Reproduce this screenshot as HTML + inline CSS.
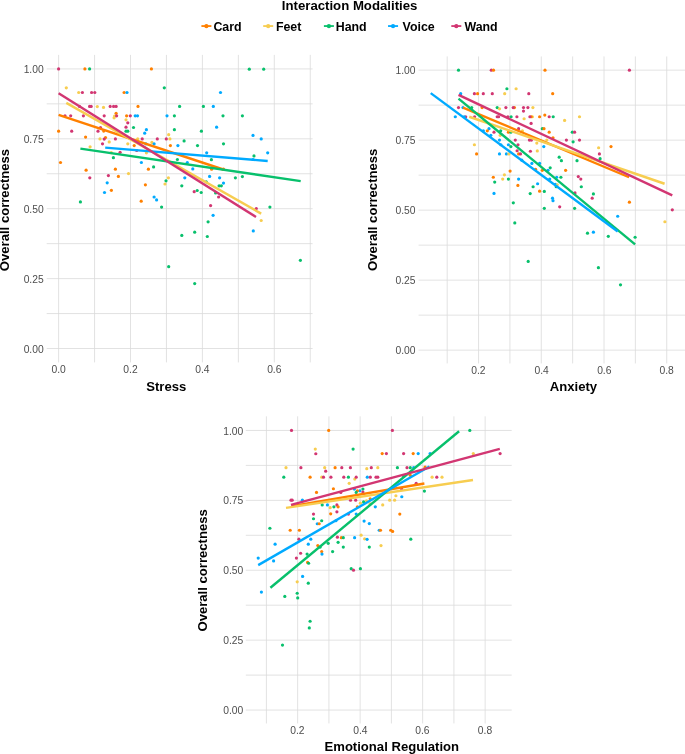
<!DOCTYPE html>
<html><head><meta charset="utf-8"><title>Interaction Modalities</title>
<style>
html,body{margin:0;padding:0;background:#fff;}
body{width:685px;height:754px;overflow:hidden;}
svg{display:block;font-family:"Liberation Sans",sans-serif;will-change:transform;}
</style></head><body>
<svg width="685" height="754" viewBox="0 0 685 754">

<text x="349.6" y="9.7" text-anchor="middle" font-size="13.2" font-weight="bold" fill="#000">Interaction Modalities</text>
<line x1="201.4" y1="26.05" x2="211.4" y2="26.05" stroke="#FF8000" stroke-width="1.8"/>
<circle cx="206.4" cy="26.15" r="2.1" fill="#FF8000"/>
<text x="213.4" y="30.8" font-size="12.4" font-weight="bold" fill="#000">Card</text>
<line x1="263.2" y1="26.05" x2="273.2" y2="26.05" stroke="#F7CD50" stroke-width="1.8"/>
<circle cx="268.2" cy="26.15" r="2.1" fill="#F7CD50"/>
<text x="275.9" y="30.8" font-size="12.4" font-weight="bold" fill="#000">Feet</text>
<line x1="323.9" y1="26.05" x2="333.9" y2="26.05" stroke="#08C06C" stroke-width="1.8"/>
<circle cx="328.9" cy="26.15" r="2.1" fill="#08C06C"/>
<text x="335.7" y="30.8" font-size="12.4" font-weight="bold" fill="#000">Hand</text>
<line x1="388.05" y1="26.05" x2="398.05" y2="26.05" stroke="#00AAFF" stroke-width="1.8"/>
<circle cx="393.05" cy="26.15" r="2.1" fill="#00AAFF"/>
<text x="402.6" y="30.8" font-size="12.4" font-weight="bold" fill="#000">Voice</text>
<line x1="451.3" y1="26.05" x2="461.3" y2="26.05" stroke="#D23672" stroke-width="1.8"/>
<circle cx="456.3" cy="26.15" r="2.1" fill="#D23672"/>
<text x="464.4" y="30.8" font-size="12.4" font-weight="bold" fill="#000">Wand</text>
<g transform="translate(0,0.3)">
<line x1="58.6" y1="54.6" x2="58.6" y2="362.1" stroke="#dadada" stroke-width="0.8"/>
<line x1="94.55000000000001" y1="54.6" x2="94.55000000000001" y2="362.1" stroke="#dadada" stroke-width="0.8"/>
<line x1="130.5" y1="54.6" x2="130.5" y2="362.1" stroke="#dadada" stroke-width="0.8"/>
<line x1="166.45000000000002" y1="54.6" x2="166.45000000000002" y2="362.1" stroke="#dadada" stroke-width="0.8"/>
<line x1="202.4" y1="54.6" x2="202.4" y2="362.1" stroke="#dadada" stroke-width="0.8"/>
<line x1="238.35" y1="54.6" x2="238.35" y2="362.1" stroke="#dadada" stroke-width="0.8"/>
<line x1="274.3" y1="54.6" x2="274.3" y2="362.1" stroke="#dadada" stroke-width="0.8"/>
<line x1="310.25000000000006" y1="54.6" x2="310.25000000000006" y2="362.1" stroke="#dadada" stroke-width="0.8"/>
<line x1="46.7" y1="68.6" x2="312.6" y2="68.6" stroke="#dadada" stroke-width="0.8"/>
<line x1="46.7" y1="103.55" x2="312.6" y2="103.55" stroke="#dadada" stroke-width="0.8"/>
<line x1="46.7" y1="138.5" x2="312.6" y2="138.5" stroke="#dadada" stroke-width="0.8"/>
<line x1="46.7" y1="173.45" x2="312.6" y2="173.45" stroke="#dadada" stroke-width="0.8"/>
<line x1="46.7" y1="208.4" x2="312.6" y2="208.4" stroke="#dadada" stroke-width="0.8"/>
<line x1="46.7" y1="243.35" x2="312.6" y2="243.35" stroke="#dadada" stroke-width="0.8"/>
<line x1="46.7" y1="278.3" x2="312.6" y2="278.3" stroke="#dadada" stroke-width="0.8"/>
<line x1="46.7" y1="313.25" x2="312.6" y2="313.25" stroke="#dadada" stroke-width="0.8"/>
<line x1="46.7" y1="348.20000000000005" x2="312.6" y2="348.20000000000005" stroke="#dadada" stroke-width="0.8"/>
<circle cx="58.6" cy="68.6" r="1.6" fill="#D23672"/>
<circle cx="84.9" cy="68.6" r="1.6" fill="#FF8000"/>
<circle cx="89.6" cy="68.6" r="1.6" fill="#08C06C"/>
<circle cx="151.4" cy="68.6" r="1.6" fill="#FF8000"/>
<circle cx="66.3" cy="87.5" r="1.6" fill="#F7CD50"/>
<circle cx="164.3" cy="87.5" r="1.6" fill="#08C06C"/>
<circle cx="78.7" cy="92.2" r="1.6" fill="#F7CD50"/>
<circle cx="82.4" cy="92.2" r="1.6" fill="#D23672"/>
<circle cx="91.6" cy="92.2" r="1.6" fill="#D23672"/>
<circle cx="94.8" cy="92.2" r="1.6" fill="#D23672"/>
<circle cx="124.1" cy="92.2" r="1.6" fill="#FF8000"/>
<circle cx="127" cy="92.2" r="1.6" fill="#00AAFF"/>
<circle cx="79.5" cy="106.1" r="1.6" fill="#D23672"/>
<circle cx="89.6" cy="106.1" r="1.6" fill="#D23672"/>
<circle cx="103.7" cy="130.8" r="1.6" fill="#FF8000"/>
<circle cx="91.2" cy="106.1" r="1.6" fill="#D23672"/>
<circle cx="97.3" cy="106.3" r="1.6" fill="#F7CD50"/>
<circle cx="103.5" cy="107.1" r="1.6" fill="#F7CD50"/>
<circle cx="110.2" cy="106.1" r="1.6" fill="#D23672"/>
<circle cx="113.6" cy="106.1" r="1.6" fill="#D23672"/>
<circle cx="116.1" cy="106.1" r="1.6" fill="#D23672"/>
<circle cx="138" cy="106.1" r="1.6" fill="#FF8000"/>
<circle cx="65" cy="115.5" r="1.6" fill="#D23672"/>
<circle cx="70.7" cy="115.5" r="1.6" fill="#D23672"/>
<circle cx="83.4" cy="115.5" r="1.6" fill="#D23672"/>
<circle cx="104.2" cy="115.5" r="1.6" fill="#D23672"/>
<circle cx="116.1" cy="113" r="1.6" fill="#FF8000"/>
<circle cx="114.6" cy="115.8" r="1.6" fill="#F7CD50"/>
<circle cx="114.1" cy="117.5" r="1.6" fill="#F7CD50"/>
<circle cx="116.6" cy="115.5" r="1.6" fill="#D23672"/>
<circle cx="126.6" cy="115.5" r="1.6" fill="#FF8000"/>
<circle cx="130.3" cy="115.5" r="1.6" fill="#D23672"/>
<circle cx="135.2" cy="115.5" r="1.6" fill="#00AAFF"/>
<circle cx="137.5" cy="115.5" r="1.6" fill="#00AAFF"/>
<circle cx="167" cy="115.5" r="1.6" fill="#00AAFF"/>
<circle cx="126" cy="119.5" r="1.6" fill="#F7CD50"/>
<circle cx="127.8" cy="122.5" r="1.6" fill="#D23672"/>
<circle cx="126" cy="126.9" r="1.6" fill="#D23672"/>
<circle cx="133.5" cy="127.2" r="1.6" fill="#08C06C"/>
<circle cx="146.4" cy="129.4" r="1.6" fill="#00AAFF"/>
<circle cx="58.6" cy="130.9" r="1.6" fill="#FF8000"/>
<circle cx="71.7" cy="130.9" r="1.6" fill="#D23672"/>
<circle cx="98" cy="130.9" r="1.6" fill="#D23672"/>
<circle cx="100.5" cy="127.2" r="1.6" fill="#D23672"/>
<circle cx="126" cy="130.9" r="1.6" fill="#08C06C"/>
<circle cx="127.8" cy="130.9" r="1.6" fill="#08C06C"/>
<circle cx="144.7" cy="132.9" r="1.6" fill="#00AAFF"/>
<circle cx="85.6" cy="136.8" r="1.6" fill="#FF8000"/>
<circle cx="100" cy="138.6" r="1.6" fill="#F7CD50"/>
<circle cx="105.5" cy="137.3" r="1.6" fill="#FF8000"/>
<circle cx="104.2" cy="138.8" r="1.6" fill="#D23672"/>
<circle cx="115.4" cy="138.6" r="1.6" fill="#D23672"/>
<circle cx="137.7" cy="138.6" r="1.6" fill="#F7CD50"/>
<circle cx="142.2" cy="138.6" r="1.6" fill="#D23672"/>
<circle cx="157.3" cy="138.6" r="1.6" fill="#D23672"/>
<circle cx="166.3" cy="138.6" r="1.6" fill="#D23672"/>
<circle cx="168.7" cy="134.4" r="1.6" fill="#F7CD50"/>
<circle cx="169.9" cy="138.6" r="1.6" fill="#F7CD50"/>
<circle cx="109.2" cy="141.6" r="1.6" fill="#F7CD50"/>
<circle cx="102.5" cy="143.5" r="1.6" fill="#D23672"/>
<circle cx="127.8" cy="143.5" r="1.6" fill="#F7CD50"/>
<circle cx="134.2" cy="145.3" r="1.6" fill="#FF8000"/>
<circle cx="151.9" cy="142.1" r="1.6" fill="#F7CD50"/>
<circle cx="154.1" cy="143.5" r="1.6" fill="#00AAFF"/>
<circle cx="170.4" cy="145.3" r="1.6" fill="#FF8000"/>
<circle cx="90.1" cy="146.5" r="1.6" fill="#F7CD50"/>
<circle cx="145.9" cy="143.5" r="1.6" fill="#00AAFF"/>
<circle cx="136.7" cy="150.2" r="1.6" fill="#D23672"/>
<circle cx="146.4" cy="152.5" r="1.6" fill="#F7CD50"/>
<circle cx="120.1" cy="152" r="1.6" fill="#D23672"/>
<circle cx="111.3" cy="152.4" r="1.6" fill="#F7CD50"/>
<circle cx="113.4" cy="157.4" r="1.6" fill="#08C06C"/>
<circle cx="60.5" cy="162.2" r="1.6" fill="#FF8000"/>
<circle cx="141.4" cy="162.2" r="1.6" fill="#00AAFF"/>
<circle cx="153.6" cy="166.6" r="1.6" fill="#08C06C"/>
<circle cx="86.1" cy="169.9" r="1.6" fill="#FF8000"/>
<circle cx="115.4" cy="168.9" r="1.6" fill="#FF8000"/>
<circle cx="148.4" cy="168.9" r="1.6" fill="#FF8000"/>
<circle cx="128.5" cy="173.3" r="1.6" fill="#F7CD50"/>
<circle cx="108.4" cy="175.3" r="1.6" fill="#D23672"/>
<circle cx="118.4" cy="176.1" r="1.6" fill="#FF8000"/>
<circle cx="89.8" cy="177.5" r="1.6" fill="#D23672"/>
<circle cx="107.2" cy="182.5" r="1.6" fill="#00AAFF"/>
<circle cx="168.4" cy="177.5" r="1.6" fill="#F7CD50"/>
<circle cx="166" cy="180.5" r="1.6" fill="#08C06C"/>
<circle cx="165" cy="183.7" r="1.6" fill="#F7CD50"/>
<circle cx="145.4" cy="184.5" r="1.6" fill="#FF8000"/>
<circle cx="111.4" cy="190" r="1.6" fill="#FF8000"/>
<circle cx="104.5" cy="192.2" r="1.6" fill="#00AAFF"/>
<circle cx="154.1" cy="196.7" r="1.6" fill="#00AAFF"/>
<circle cx="156.6" cy="199.6" r="1.6" fill="#00AAFF"/>
<circle cx="141.2" cy="200.9" r="1.6" fill="#FF8000"/>
<circle cx="80.4" cy="201.6" r="1.6" fill="#08C06C"/>
<circle cx="161.6" cy="206.8" r="1.6" fill="#08C06C"/>
<circle cx="249.3" cy="68.9" r="1.6" fill="#08C06C"/>
<circle cx="263.7" cy="68.9" r="1.6" fill="#08C06C"/>
<circle cx="220.5" cy="92.2" r="1.6" fill="#00AAFF"/>
<circle cx="179.6" cy="106.1" r="1.6" fill="#08C06C"/>
<circle cx="203.4" cy="106.1" r="1.6" fill="#08C06C"/>
<circle cx="213.3" cy="106.1" r="1.6" fill="#00AAFF"/>
<circle cx="174.4" cy="115.5" r="1.6" fill="#08C06C"/>
<circle cx="223" cy="115.5" r="1.6" fill="#08C06C"/>
<circle cx="242.4" cy="115.5" r="1.6" fill="#08C06C"/>
<circle cx="216.6" cy="126.9" r="1.6" fill="#00AAFF"/>
<circle cx="174.4" cy="129.4" r="1.6" fill="#08C06C"/>
<circle cx="201.4" cy="130.9" r="1.6" fill="#08C06C"/>
<circle cx="253" cy="135.1" r="1.6" fill="#00AAFF"/>
<circle cx="261.2" cy="138.6" r="1.6" fill="#00AAFF"/>
<circle cx="184.1" cy="140.6" r="1.6" fill="#08C06C"/>
<circle cx="223.5" cy="143.5" r="1.6" fill="#08C06C"/>
<circle cx="177.9" cy="145.3" r="1.6" fill="#00AAFF"/>
<circle cx="197.5" cy="145.3" r="1.6" fill="#08C06C"/>
<circle cx="206.7" cy="152.5" r="1.6" fill="#00AAFF"/>
<circle cx="267.7" cy="152.5" r="1.6" fill="#00AAFF"/>
<circle cx="254" cy="155.6" r="1.6" fill="#08C06C"/>
<circle cx="253" cy="159.2" r="1.6" fill="#00AAFF"/>
<circle cx="177.4" cy="159.2" r="1.6" fill="#08C06C"/>
<circle cx="211.4" cy="159.4" r="1.6" fill="#08C06C"/>
<circle cx="187.3" cy="162.2" r="1.6" fill="#00AAFF"/>
<circle cx="192.8" cy="168.6" r="1.6" fill="#00AAFF"/>
<circle cx="211.6" cy="168.9" r="1.6" fill="#FF8000"/>
<circle cx="223.5" cy="168.9" r="1.6" fill="#FF8000"/>
<circle cx="209.6" cy="176.1" r="1.6" fill="#00AAFF"/>
<circle cx="184.8" cy="177.5" r="1.6" fill="#00AAFF"/>
<circle cx="219.6" cy="177.5" r="1.6" fill="#00AAFF"/>
<circle cx="235.4" cy="177.5" r="1.6" fill="#08C06C"/>
<circle cx="242.4" cy="176.3" r="1.6" fill="#08C06C"/>
<circle cx="206.2" cy="181.5" r="1.6" fill="#08C06C"/>
<circle cx="223.5" cy="182.8" r="1.6" fill="#00AAFF"/>
<circle cx="181.8" cy="185.5" r="1.6" fill="#08C06C"/>
<circle cx="219.1" cy="185.5" r="1.6" fill="#08C06C"/>
<circle cx="221.3" cy="185.5" r="1.6" fill="#08C06C"/>
<circle cx="197.2" cy="190.2" r="1.6" fill="#08C06C"/>
<circle cx="194.2" cy="191.4" r="1.6" fill="#D23672"/>
<circle cx="201.2" cy="192.2" r="1.6" fill="#08C06C"/>
<circle cx="215.6" cy="192.7" r="1.6" fill="#08C06C"/>
<circle cx="218.6" cy="196.7" r="1.6" fill="#D23672"/>
<circle cx="210.6" cy="205.3" r="1.6" fill="#D23672"/>
<circle cx="269.9" cy="206.8" r="1.6" fill="#08C06C"/>
<circle cx="256.3" cy="208.3" r="1.6" fill="#D23672"/>
<circle cx="213.1" cy="215" r="1.6" fill="#00AAFF"/>
<circle cx="261.2" cy="220.2" r="1.6" fill="#F7CD50"/>
<circle cx="208.1" cy="221.5" r="1.6" fill="#08C06C"/>
<circle cx="253.3" cy="230.6" r="1.6" fill="#00AAFF"/>
<circle cx="194.7" cy="231.9" r="1.6" fill="#08C06C"/>
<circle cx="181.8" cy="235.1" r="1.6" fill="#08C06C"/>
<circle cx="207.3" cy="236.2" r="1.6" fill="#08C06C"/>
<circle cx="168.7" cy="266.4" r="1.6" fill="#08C06C"/>
<circle cx="194.7" cy="283.3" r="1.6" fill="#08C06C"/>
<circle cx="300.4" cy="260" r="1.6" fill="#08C06C"/>
<line x1="58.6" y1="114.5" x2="223.3" y2="169.2" stroke="#FF8000" stroke-width="2.4"/>
<line x1="66.3" y1="102.6" x2="261.2" y2="213.3" stroke="#F7CD50" stroke-width="2.4"/>
<line x1="80.4" y1="148.3" x2="300.7" y2="180.8" stroke="#08C06C" stroke-width="2.4"/>
<line x1="105.2" y1="147.3" x2="267.7" y2="160.7" stroke="#00AAFF" stroke-width="2.4"/>
<line x1="58.6" y1="92.9" x2="256" y2="216.7" stroke="#D23672" stroke-width="2.4"/>
</g>
<text x="58.6" y="372.8" text-anchor="middle" font-size="10.3" fill="#4d4d4d">0.0</text>
<text x="130.5" y="372.8" text-anchor="middle" font-size="10.3" fill="#4d4d4d">0.2</text>
<text x="202.4" y="372.8" text-anchor="middle" font-size="10.3" fill="#4d4d4d">0.4</text>
<text x="274.3" y="372.8" text-anchor="middle" font-size="10.3" fill="#4d4d4d">0.6</text>
<text x="43.7" y="72.99999999999999" text-anchor="end" font-size="10.3" fill="#4d4d4d">1.00</text>
<text x="43.7" y="142.9" text-anchor="end" font-size="10.3" fill="#4d4d4d">0.75</text>
<text x="43.7" y="212.8" text-anchor="end" font-size="10.3" fill="#4d4d4d">0.50</text>
<text x="43.7" y="282.70000000000005" text-anchor="end" font-size="10.3" fill="#4d4d4d">0.25</text>
<text x="43.7" y="352.6" text-anchor="end" font-size="10.3" fill="#4d4d4d">0.00</text>
<text x="166.3" y="391.3" text-anchor="middle" font-size="13.1" font-weight="bold" fill="#000">Stress</text>
<text transform="translate(9.4,210) rotate(-90)" text-anchor="middle" font-size="13.1" font-weight="bold" fill="#000">Overall correctness</text>
<g transform="translate(0,0.25)">
<line x1="447.2" y1="56.2" x2="447.2" y2="363.2" stroke="#dadada" stroke-width="0.8"/>
<line x1="478.56" y1="56.2" x2="478.56" y2="363.2" stroke="#dadada" stroke-width="0.8"/>
<line x1="509.91999999999996" y1="56.2" x2="509.91999999999996" y2="363.2" stroke="#dadada" stroke-width="0.8"/>
<line x1="541.28" y1="56.2" x2="541.28" y2="363.2" stroke="#dadada" stroke-width="0.8"/>
<line x1="572.64" y1="56.2" x2="572.64" y2="363.2" stroke="#dadada" stroke-width="0.8"/>
<line x1="604.0" y1="56.2" x2="604.0" y2="363.2" stroke="#dadada" stroke-width="0.8"/>
<line x1="635.36" y1="56.2" x2="635.36" y2="363.2" stroke="#dadada" stroke-width="0.8"/>
<line x1="666.72" y1="56.2" x2="666.72" y2="363.2" stroke="#dadada" stroke-width="0.8"/>
<line x1="418.6" y1="69.9" x2="685" y2="69.9" stroke="#dadada" stroke-width="0.8"/>
<line x1="418.6" y1="104.9" x2="685" y2="104.9" stroke="#dadada" stroke-width="0.8"/>
<line x1="418.6" y1="139.9" x2="685" y2="139.9" stroke="#dadada" stroke-width="0.8"/>
<line x1="418.6" y1="174.9" x2="685" y2="174.9" stroke="#dadada" stroke-width="0.8"/>
<line x1="418.6" y1="209.9" x2="685" y2="209.9" stroke="#dadada" stroke-width="0.8"/>
<line x1="418.6" y1="244.9" x2="685" y2="244.9" stroke="#dadada" stroke-width="0.8"/>
<line x1="418.6" y1="279.9" x2="685" y2="279.9" stroke="#dadada" stroke-width="0.8"/>
<line x1="418.6" y1="314.9" x2="685" y2="314.9" stroke="#dadada" stroke-width="0.8"/>
<line x1="418.6" y1="349.9" x2="685" y2="349.9" stroke="#dadada" stroke-width="0.8"/>
<circle cx="458.5" cy="69.9" r="1.6" fill="#08C06C"/>
<circle cx="491.3" cy="69.9" r="1.6" fill="#D23672"/>
<circle cx="493.5" cy="69.9" r="1.6" fill="#FF8000"/>
<circle cx="506.9" cy="88.5" r="1.6" fill="#08C06C"/>
<circle cx="516.1" cy="88.5" r="1.6" fill="#F7CD50"/>
<circle cx="460.7" cy="93.4" r="1.6" fill="#00AAFF"/>
<circle cx="474.4" cy="93.4" r="1.6" fill="#D23672"/>
<circle cx="477.6" cy="93.4" r="1.6" fill="#FF8000"/>
<circle cx="483.3" cy="93.4" r="1.6" fill="#D23672"/>
<circle cx="492.3" cy="93.4" r="1.6" fill="#D23672"/>
<circle cx="504.7" cy="93.4" r="1.6" fill="#F7CD50"/>
<circle cx="528.8" cy="93.4" r="1.6" fill="#D23672"/>
<circle cx="458.5" cy="107.3" r="1.6" fill="#D23672"/>
<circle cx="463" cy="107.3" r="1.6" fill="#00AAFF"/>
<circle cx="471.7" cy="107.3" r="1.6" fill="#08C06C"/>
<circle cx="482.1" cy="107.3" r="1.6" fill="#FF8000"/>
<circle cx="497.2" cy="107.3" r="1.6" fill="#08C06C"/>
<circle cx="499.5" cy="108.6" r="1.6" fill="#F7CD50"/>
<circle cx="505.9" cy="107.3" r="1.6" fill="#D23672"/>
<circle cx="514.4" cy="107.3" r="1.6" fill="#FF8000"/>
<circle cx="513.2" cy="107.3" r="1.6" fill="#D23672"/>
<circle cx="523.5" cy="107.3" r="1.6" fill="#D23672"/>
<circle cx="527.9" cy="107.3" r="1.6" fill="#D23672"/>
<circle cx="532.9" cy="107.3" r="1.6" fill="#F7CD50"/>
<circle cx="523.5" cy="110.8" r="1.6" fill="#D23672"/>
<circle cx="455.3" cy="116.5" r="1.6" fill="#00AAFF"/>
<circle cx="465.7" cy="116.5" r="1.6" fill="#D23672"/>
<circle cx="464.2" cy="116.5" r="1.6" fill="#00AAFF"/>
<circle cx="474.6" cy="116.5" r="1.6" fill="#D23672"/>
<circle cx="497.2" cy="116.5" r="1.6" fill="#D23672"/>
<circle cx="498.6" cy="116.5" r="1.6" fill="#D23672"/>
<circle cx="507.9" cy="116.5" r="1.6" fill="#D23672"/>
<circle cx="511.1" cy="116.5" r="1.6" fill="#08C06C"/>
<circle cx="516.9" cy="116.5" r="1.6" fill="#D23672"/>
<circle cx="524.1" cy="118.5" r="1.6" fill="#F7CD50"/>
<circle cx="518.6" cy="128.4" r="1.6" fill="#D23672"/>
<circle cx="489" cy="128.4" r="1.6" fill="#00AAFF"/>
<circle cx="483.3" cy="130.6" r="1.6" fill="#00AAFF"/>
<circle cx="487.3" cy="130.6" r="1.6" fill="#FF8000"/>
<circle cx="494" cy="131.9" r="1.6" fill="#D23672"/>
<circle cx="500.7" cy="130.6" r="1.6" fill="#08C06C"/>
<circle cx="508.4" cy="131.9" r="1.6" fill="#FF8000"/>
<circle cx="510.9" cy="131.9" r="1.6" fill="#08C06C"/>
<circle cx="490.8" cy="135.1" r="1.6" fill="#00AAFF"/>
<circle cx="500.2" cy="135.1" r="1.6" fill="#F7CD50"/>
<circle cx="499.5" cy="139.8" r="1.6" fill="#00AAFF"/>
<circle cx="515.3" cy="139.8" r="1.6" fill="#D23672"/>
<circle cx="474.4" cy="144.5" r="1.6" fill="#F7CD50"/>
<circle cx="500.9" cy="144.5" r="1.6" fill="#00AAFF"/>
<circle cx="508.4" cy="144.5" r="1.6" fill="#00AAFF"/>
<circle cx="510.9" cy="146.3" r="1.6" fill="#08C06C"/>
<circle cx="476.6" cy="153.7" r="1.6" fill="#FF8000"/>
<circle cx="499.5" cy="153.7" r="1.6" fill="#00AAFF"/>
<circle cx="506.4" cy="153.7" r="1.6" fill="#00AAFF"/>
<circle cx="508.9" cy="153.7" r="1.6" fill="#F7CD50"/>
<circle cx="518.6" cy="153.7" r="1.6" fill="#FF8000"/>
<circle cx="517.1" cy="150.5" r="1.6" fill="#D23672"/>
<circle cx="521.8" cy="159.9" r="1.6" fill="#00AAFF"/>
<circle cx="510.1" cy="170.8" r="1.6" fill="#FF8000"/>
<circle cx="504.4" cy="174.6" r="1.6" fill="#F7CD50"/>
<circle cx="493.3" cy="177" r="1.6" fill="#FF8000"/>
<circle cx="502.7" cy="178.8" r="1.6" fill="#F7CD50"/>
<circle cx="508.4" cy="178.8" r="1.6" fill="#08C06C"/>
<circle cx="518.6" cy="178.8" r="1.6" fill="#00AAFF"/>
<circle cx="494.7" cy="181.8" r="1.6" fill="#08C06C"/>
<circle cx="517.9" cy="185.2" r="1.6" fill="#FF8000"/>
<circle cx="494" cy="193.2" r="1.6" fill="#00AAFF"/>
<circle cx="530.2" cy="193.3" r="1.6" fill="#08C06C"/>
<circle cx="513.3" cy="202.6" r="1.6" fill="#08C06C"/>
<circle cx="514.8" cy="222.7" r="1.6" fill="#08C06C"/>
<circle cx="545" cy="69.9" r="1.6" fill="#FF8000"/>
<circle cx="629.4" cy="69.9" r="1.6" fill="#D23672"/>
<circle cx="552.7" cy="93.4" r="1.6" fill="#FF8000"/>
<circle cx="532.4" cy="116.5" r="1.6" fill="#F7CD50"/>
<circle cx="531.2" cy="116.5" r="1.6" fill="#FF8000"/>
<circle cx="529.9" cy="116.5" r="1.6" fill="#D23672"/>
<circle cx="539.6" cy="116.5" r="1.6" fill="#FF8000"/>
<circle cx="544.8" cy="114.8" r="1.6" fill="#FF8000"/>
<circle cx="549.2" cy="116.5" r="1.6" fill="#D23672"/>
<circle cx="553.2" cy="116.5" r="1.6" fill="#08C06C"/>
<circle cx="579.5" cy="116.5" r="1.6" fill="#F7CD50"/>
<circle cx="564.6" cy="120.2" r="1.6" fill="#F7CD50"/>
<circle cx="531.1" cy="123.2" r="1.6" fill="#D23672"/>
<circle cx="542.3" cy="128.4" r="1.6" fill="#08C06C"/>
<circle cx="544" cy="128.4" r="1.6" fill="#FF8000"/>
<circle cx="522.4" cy="130.6" r="1.6" fill="#F7CD50"/>
<circle cx="549.2" cy="131.9" r="1.6" fill="#FF8000"/>
<circle cx="572.3" cy="131.9" r="1.6" fill="#08C06C"/>
<circle cx="574.6" cy="131.9" r="1.6" fill="#D23672"/>
<circle cx="553" cy="137.6" r="1.6" fill="#FF8000"/>
<circle cx="529.4" cy="139.8" r="1.6" fill="#D23672"/>
<circle cx="531.4" cy="139.8" r="1.6" fill="#D23672"/>
<circle cx="546.8" cy="139.8" r="1.6" fill="#F7CD50"/>
<circle cx="566.4" cy="139.8" r="1.6" fill="#D23672"/>
<circle cx="579.5" cy="139.8" r="1.6" fill="#D23672"/>
<circle cx="573.1" cy="141.6" r="1.6" fill="#08C06C"/>
<circle cx="536.8" cy="142.8" r="1.6" fill="#F7CD50"/>
<circle cx="518" cy="144.5" r="1.6" fill="#D23672"/>
<circle cx="543.8" cy="146.3" r="1.6" fill="#00AAFF"/>
<circle cx="611" cy="146.3" r="1.6" fill="#FF8000"/>
<circle cx="598.6" cy="147.5" r="1.6" fill="#F7CD50"/>
<circle cx="530.4" cy="151" r="1.6" fill="#D23672"/>
<circle cx="537.3" cy="150.7" r="1.6" fill="#F7CD50"/>
<circle cx="520.5" cy="153.7" r="1.6" fill="#D23672"/>
<circle cx="599.4" cy="153.7" r="1.6" fill="#D23672"/>
<circle cx="559.2" cy="156.9" r="1.6" fill="#08C06C"/>
<circle cx="600.1" cy="158.4" r="1.6" fill="#08C06C"/>
<circle cx="561.4" cy="160.4" r="1.6" fill="#08C06C"/>
<circle cx="577" cy="160.4" r="1.6" fill="#08C06C"/>
<circle cx="531.9" cy="163.2" r="1.6" fill="#00AAFF"/>
<circle cx="539.6" cy="163.2" r="1.6" fill="#00AAFF"/>
<circle cx="550.2" cy="167.6" r="1.6" fill="#08C06C"/>
<circle cx="535.6" cy="169" r="1.6" fill="#FF8000"/>
<circle cx="542.3" cy="170.1" r="1.6" fill="#FF8000"/>
<circle cx="548" cy="170.1" r="1.6" fill="#00AAFF"/>
<circle cx="565.6" cy="170.1" r="1.6" fill="#FF8000"/>
<circle cx="578.3" cy="176.3" r="1.6" fill="#D23672"/>
<circle cx="580.8" cy="178.8" r="1.6" fill="#D23672"/>
<circle cx="556.7" cy="177" r="1.6" fill="#00AAFF"/>
<circle cx="560.9" cy="177" r="1.6" fill="#08C06C"/>
<circle cx="549.7" cy="178.8" r="1.6" fill="#00AAFF"/>
<circle cx="537.6" cy="183.5" r="1.6" fill="#00AAFF"/>
<circle cx="555.4" cy="184" r="1.6" fill="#00AAFF"/>
<circle cx="557.2" cy="184.5" r="1.6" fill="#F7CD50"/>
<circle cx="556.2" cy="186.5" r="1.6" fill="#08C06C"/>
<circle cx="533.1" cy="186.5" r="1.6" fill="#08C06C"/>
<circle cx="581.3" cy="186.5" r="1.6" fill="#08C06C"/>
<circle cx="539.6" cy="190.9" r="1.6" fill="#FF8000"/>
<circle cx="544.3" cy="191.2" r="1.6" fill="#08C06C"/>
<circle cx="575" cy="192.7" r="1.6" fill="#D23672"/>
<circle cx="593.4" cy="193.7" r="1.6" fill="#08C06C"/>
<circle cx="592.2" cy="197.9" r="1.6" fill="#D23672"/>
<circle cx="552.5" cy="197.9" r="1.6" fill="#00AAFF"/>
<circle cx="553" cy="200.4" r="1.6" fill="#00AAFF"/>
<circle cx="629.4" cy="201.9" r="1.6" fill="#FF8000"/>
<circle cx="559.7" cy="206.6" r="1.6" fill="#D23672"/>
<circle cx="544.3" cy="208.1" r="1.6" fill="#08C06C"/>
<circle cx="574.6" cy="208.1" r="1.6" fill="#08C06C"/>
<circle cx="672.3" cy="209.6" r="1.6" fill="#D23672"/>
<circle cx="617.7" cy="216" r="1.6" fill="#00AAFF"/>
<circle cx="664.9" cy="221.5" r="1.6" fill="#F7CD50"/>
<circle cx="587.5" cy="232.9" r="1.6" fill="#08C06C"/>
<circle cx="593.4" cy="231.9" r="1.6" fill="#00AAFF"/>
<circle cx="608.3" cy="236.1" r="1.6" fill="#08C06C"/>
<circle cx="635.1" cy="237" r="1.6" fill="#08C06C"/>
<circle cx="528.2" cy="261.2" r="1.6" fill="#08C06C"/>
<circle cx="598.4" cy="267.4" r="1.6" fill="#08C06C"/>
<circle cx="620.5" cy="284.6" r="1.6" fill="#08C06C"/>
<line x1="463" y1="107.3" x2="629.1" y2="177" stroke="#FF8000" stroke-width="2.4"/>
<line x1="469.2" y1="116.5" x2="664.6" y2="183.5" stroke="#F7CD50" stroke-width="2.4"/>
<line x1="458.5" y1="98.4" x2="635.1" y2="244.1" stroke="#08C06C" stroke-width="2.4"/>
<line x1="430.7" y1="92.9" x2="617.7" y2="231.2" stroke="#00AAFF" stroke-width="2.4"/>
<line x1="458.5" y1="94.7" x2="672.3" y2="195.2" stroke="#D23672" stroke-width="2.4"/>
</g>
<text x="478.4" y="373.7" text-anchor="middle" font-size="10.3" fill="#4d4d4d">0.2</text>
<text x="541.6" y="373.7" text-anchor="middle" font-size="10.3" fill="#4d4d4d">0.4</text>
<text x="604.3" y="373.7" text-anchor="middle" font-size="10.3" fill="#4d4d4d">0.6</text>
<text x="666.6" y="373.7" text-anchor="middle" font-size="10.3" fill="#4d4d4d">0.8</text>
<text x="415.5" y="74.25" text-anchor="end" font-size="10.3" fill="#4d4d4d">1.00</text>
<text x="415.5" y="144.25" text-anchor="end" font-size="10.3" fill="#4d4d4d">0.75</text>
<text x="415.5" y="214.25" text-anchor="end" font-size="10.3" fill="#4d4d4d">0.50</text>
<text x="415.5" y="284.25" text-anchor="end" font-size="10.3" fill="#4d4d4d">0.25</text>
<text x="415.5" y="354.25" text-anchor="end" font-size="10.3" fill="#4d4d4d">0.00</text>
<text x="573.5" y="391.1" text-anchor="middle" font-size="13.1" font-weight="bold" fill="#000">Anxiety</text>
<text transform="translate(376.5,209.8) rotate(-90)" text-anchor="middle" font-size="13.1" font-weight="bold" fill="#000">Overall correctness</text>
<g transform="translate(0,0.15)">
<line x1="266.4" y1="416.2" x2="266.4" y2="723.3" stroke="#dadada" stroke-width="0.8"/>
<line x1="297.65" y1="416.2" x2="297.65" y2="723.3" stroke="#dadada" stroke-width="0.8"/>
<line x1="328.9" y1="416.2" x2="328.9" y2="723.3" stroke="#dadada" stroke-width="0.8"/>
<line x1="360.15" y1="416.2" x2="360.15" y2="723.3" stroke="#dadada" stroke-width="0.8"/>
<line x1="391.4" y1="416.2" x2="391.4" y2="723.3" stroke="#dadada" stroke-width="0.8"/>
<line x1="422.65" y1="416.2" x2="422.65" y2="723.3" stroke="#dadada" stroke-width="0.8"/>
<line x1="453.9" y1="416.2" x2="453.9" y2="723.3" stroke="#dadada" stroke-width="0.8"/>
<line x1="485.15" y1="416.2" x2="485.15" y2="723.3" stroke="#dadada" stroke-width="0.8"/>
<line x1="245.8" y1="430.3" x2="511.7" y2="430.3" stroke="#dadada" stroke-width="0.8"/>
<line x1="245.8" y1="465.25" x2="511.7" y2="465.25" stroke="#dadada" stroke-width="0.8"/>
<line x1="245.8" y1="500.20000000000005" x2="511.7" y2="500.20000000000005" stroke="#dadada" stroke-width="0.8"/>
<line x1="245.8" y1="535.15" x2="511.7" y2="535.15" stroke="#dadada" stroke-width="0.8"/>
<line x1="245.8" y1="570.1" x2="511.7" y2="570.1" stroke="#dadada" stroke-width="0.8"/>
<line x1="245.8" y1="605.05" x2="511.7" y2="605.05" stroke="#dadada" stroke-width="0.8"/>
<line x1="245.8" y1="640.0" x2="511.7" y2="640.0" stroke="#dadada" stroke-width="0.8"/>
<line x1="245.8" y1="674.95" x2="511.7" y2="674.95" stroke="#dadada" stroke-width="0.8"/>
<line x1="245.8" y1="709.9000000000001" x2="511.7" y2="709.9000000000001" stroke="#dadada" stroke-width="0.8"/>
<circle cx="291.5" cy="430.3" r="1.6" fill="#D23672"/>
<circle cx="328.7" cy="430.3" r="1.6" fill="#FF8000"/>
<circle cx="315.3" cy="448.9" r="1.6" fill="#F7CD50"/>
<circle cx="353.1" cy="448.9" r="1.6" fill="#08C06C"/>
<circle cx="315.8" cy="453.6" r="1.6" fill="#D23672"/>
<circle cx="286" cy="467.5" r="1.6" fill="#F7CD50"/>
<circle cx="300.9" cy="467.5" r="1.6" fill="#D23672"/>
<circle cx="324.7" cy="467.5" r="1.6" fill="#F7CD50"/>
<circle cx="325.7" cy="471" r="1.6" fill="#D23672"/>
<circle cx="335.1" cy="467.5" r="1.6" fill="#FF8000"/>
<circle cx="341.8" cy="467.5" r="1.6" fill="#D23672"/>
<circle cx="350.4" cy="467.5" r="1.6" fill="#D23672"/>
<circle cx="283.8" cy="477" r="1.6" fill="#08C06C"/>
<circle cx="310.1" cy="477" r="1.6" fill="#FF8000"/>
<circle cx="321.7" cy="477" r="1.6" fill="#F7CD50"/>
<circle cx="323.5" cy="477" r="1.6" fill="#D23672"/>
<circle cx="330.9" cy="477" r="1.6" fill="#D23672"/>
<circle cx="343.8" cy="477" r="1.6" fill="#D23672"/>
<circle cx="348.4" cy="477" r="1.6" fill="#08C06C"/>
<circle cx="354.8" cy="478.9" r="1.6" fill="#F7CD50"/>
<circle cx="349.2" cy="483.2" r="1.6" fill="#F7CD50"/>
<circle cx="333.4" cy="488.6" r="1.6" fill="#FF8000"/>
<circle cx="316.5" cy="492.3" r="1.6" fill="#FF8000"/>
<circle cx="340.8" cy="492.3" r="1.6" fill="#D23672"/>
<circle cx="291" cy="500" r="1.6" fill="#D23672"/>
<circle cx="292.2" cy="500" r="1.6" fill="#D23672"/>
<circle cx="302.4" cy="500" r="1.6" fill="#00AAFF"/>
<circle cx="322.2" cy="504.8" r="1.6" fill="#08C06C"/>
<circle cx="327.4" cy="504.8" r="1.6" fill="#00AAFF"/>
<circle cx="336.9" cy="504.8" r="1.6" fill="#D23672"/>
<circle cx="333.9" cy="506.7" r="1.6" fill="#08C06C"/>
<circle cx="338.1" cy="506.7" r="1.6" fill="#FF8000"/>
<circle cx="330.2" cy="507.5" r="1.6" fill="#F7CD50"/>
<circle cx="336.9" cy="511.7" r="1.6" fill="#D23672"/>
<circle cx="330.7" cy="513.7" r="1.6" fill="#FF8000"/>
<circle cx="313.5" cy="513.9" r="1.6" fill="#D23672"/>
<circle cx="348.4" cy="513.9" r="1.6" fill="#D23672"/>
<circle cx="313.5" cy="518.6" r="1.6" fill="#08C06C"/>
<circle cx="321.7" cy="520.6" r="1.6" fill="#08C06C"/>
<circle cx="317.3" cy="523.6" r="1.6" fill="#00AAFF"/>
<circle cx="319.2" cy="523.6" r="1.6" fill="#FF8000"/>
<circle cx="335.9" cy="520.6" r="1.6" fill="#00AAFF"/>
<circle cx="269.9" cy="528.1" r="1.6" fill="#08C06C"/>
<circle cx="290.2" cy="530.1" r="1.6" fill="#FF8000"/>
<circle cx="299.4" cy="530.1" r="1.6" fill="#FF8000"/>
<circle cx="337.4" cy="537" r="1.6" fill="#D23672"/>
<circle cx="341.3" cy="537.5" r="1.6" fill="#FF8000"/>
<circle cx="343.3" cy="537.5" r="1.6" fill="#08C06C"/>
<circle cx="354.6" cy="537.5" r="1.6" fill="#00AAFF"/>
<circle cx="298.9" cy="539" r="1.6" fill="#D23672"/>
<circle cx="310.8" cy="539" r="1.6" fill="#00AAFF"/>
<circle cx="338.1" cy="542.2" r="1.6" fill="#08C06C"/>
<circle cx="328.2" cy="543.2" r="1.6" fill="#08C06C"/>
<circle cx="275.1" cy="544" r="1.6" fill="#00AAFF"/>
<circle cx="308.3" cy="544" r="1.6" fill="#00AAFF"/>
<circle cx="317.8" cy="545.4" r="1.6" fill="#FF8000"/>
<circle cx="320.2" cy="546.9" r="1.6" fill="#08C06C"/>
<circle cx="343.3" cy="546.9" r="1.6" fill="#08C06C"/>
<circle cx="321.7" cy="551.4" r="1.6" fill="#FF8000"/>
<circle cx="332.6" cy="551.4" r="1.6" fill="#08C06C"/>
<circle cx="300.6" cy="553.1" r="1.6" fill="#D23672"/>
<circle cx="307.1" cy="553.9" r="1.6" fill="#08C06C"/>
<circle cx="322" cy="553.9" r="1.6" fill="#00AAFF"/>
<circle cx="258.2" cy="557.9" r="1.6" fill="#00AAFF"/>
<circle cx="296.4" cy="557.9" r="1.6" fill="#D23672"/>
<circle cx="273.6" cy="560.8" r="1.6" fill="#00AAFF"/>
<circle cx="307.6" cy="562.3" r="1.6" fill="#FF8000"/>
<circle cx="308.6" cy="563.1" r="1.6" fill="#08C06C"/>
<circle cx="351.2" cy="568.5" r="1.6" fill="#08C06C"/>
<circle cx="353.5" cy="570" r="1.6" fill="#D23672"/>
<circle cx="302.6" cy="576.3" r="1.6" fill="#00AAFF"/>
<circle cx="297.2" cy="581.7" r="1.6" fill="#F7CD50"/>
<circle cx="308.3" cy="583" r="1.6" fill="#08C06C"/>
<circle cx="261.4" cy="591.9" r="1.6" fill="#00AAFF"/>
<circle cx="297.2" cy="593.1" r="1.6" fill="#08C06C"/>
<circle cx="284.8" cy="596.3" r="1.6" fill="#08C06C"/>
<circle cx="297.7" cy="597.8" r="1.6" fill="#08C06C"/>
<circle cx="310.1" cy="621.1" r="1.6" fill="#08C06C"/>
<circle cx="309.3" cy="627.8" r="1.6" fill="#08C06C"/>
<circle cx="282.5" cy="644.9" r="1.6" fill="#08C06C"/>
<circle cx="392.4" cy="430.3" r="1.6" fill="#D23672"/>
<circle cx="469.8" cy="430.3" r="1.6" fill="#08C06C"/>
<circle cx="382.2" cy="453.4" r="1.6" fill="#FF8000"/>
<circle cx="386.4" cy="453.4" r="1.6" fill="#D23672"/>
<circle cx="403.6" cy="453.4" r="1.6" fill="#D23672"/>
<circle cx="413.2" cy="453.4" r="1.6" fill="#FF8000"/>
<circle cx="418.2" cy="453.4" r="1.6" fill="#00AAFF"/>
<circle cx="430.1" cy="453.4" r="1.6" fill="#00AAFF"/>
<circle cx="473.3" cy="453.4" r="1.6" fill="#F7CD50"/>
<circle cx="500.1" cy="453.4" r="1.6" fill="#D23672"/>
<circle cx="366.8" cy="468.5" r="1.6" fill="#F7CD50"/>
<circle cx="371.3" cy="467.5" r="1.6" fill="#D23672"/>
<circle cx="377.8" cy="467.5" r="1.6" fill="#F7CD50"/>
<circle cx="397.4" cy="467.5" r="1.6" fill="#08C06C"/>
<circle cx="407" cy="467.5" r="1.6" fill="#D23672"/>
<circle cx="410.3" cy="467.5" r="1.6" fill="#08C06C"/>
<circle cx="413.7" cy="467.5" r="1.6" fill="#00AAFF"/>
<circle cx="425.1" cy="467" r="1.6" fill="#FF8000"/>
<circle cx="356.2" cy="477" r="1.6" fill="#D23672"/>
<circle cx="367.3" cy="477" r="1.6" fill="#00AAFF"/>
<circle cx="370.3" cy="477" r="1.6" fill="#D23672"/>
<circle cx="376" cy="477" r="1.6" fill="#D23672"/>
<circle cx="377.8" cy="477" r="1.6" fill="#D23672"/>
<circle cx="403.8" cy="476.2" r="1.6" fill="#08C06C"/>
<circle cx="410.3" cy="475.2" r="1.6" fill="#FF8000"/>
<circle cx="432.1" cy="477" r="1.6" fill="#F7CD50"/>
<circle cx="436.8" cy="477" r="1.6" fill="#D23672"/>
<circle cx="442" cy="477" r="1.6" fill="#F7CD50"/>
<circle cx="416.2" cy="483.2" r="1.6" fill="#D23672"/>
<circle cx="362.9" cy="488.9" r="1.6" fill="#08C06C"/>
<circle cx="354.4" cy="488.9" r="1.6" fill="#00AAFF"/>
<circle cx="359.9" cy="490.6" r="1.6" fill="#00AAFF"/>
<circle cx="357.4" cy="490.6" r="1.6" fill="#FF8000"/>
<circle cx="356.2" cy="492.3" r="1.6" fill="#08C06C"/>
<circle cx="362.9" cy="491.9" r="1.6" fill="#D23672"/>
<circle cx="401.6" cy="488.9" r="1.6" fill="#D23672"/>
<circle cx="424.4" cy="490.9" r="1.6" fill="#08C06C"/>
<circle cx="395.9" cy="495.6" r="1.6" fill="#F7CD50"/>
<circle cx="401.8" cy="496.6" r="1.6" fill="#00AAFF"/>
<circle cx="350.5" cy="500" r="1.6" fill="#D23672"/>
<circle cx="355.7" cy="500" r="1.6" fill="#D23672"/>
<circle cx="389.7" cy="500" r="1.6" fill="#F7CD50"/>
<circle cx="394.6" cy="500" r="1.6" fill="#F7CD50"/>
<circle cx="363.6" cy="501.8" r="1.6" fill="#08C06C"/>
<circle cx="360.4" cy="503" r="1.6" fill="#F7CD50"/>
<circle cx="370" cy="503.8" r="1.6" fill="#F7CD50"/>
<circle cx="366.5" cy="500.6" r="1.6" fill="#F7CD50"/>
<circle cx="370.2" cy="498.7" r="1.6" fill="#FF8000"/>
<circle cx="382.7" cy="504.8" r="1.6" fill="#F7CD50"/>
<circle cx="375.3" cy="506.7" r="1.6" fill="#00AAFF"/>
<circle cx="357.4" cy="506.7" r="1.6" fill="#FF8000"/>
<circle cx="356.2" cy="513.9" r="1.6" fill="#00AAFF"/>
<circle cx="399.8" cy="513.9" r="1.6" fill="#FF8000"/>
<circle cx="364.1" cy="520.9" r="1.6" fill="#00AAFF"/>
<circle cx="369.3" cy="523.4" r="1.6" fill="#00AAFF"/>
<circle cx="379.2" cy="530.1" r="1.6" fill="#00AAFF"/>
<circle cx="380.5" cy="530.1" r="1.6" fill="#FF8000"/>
<circle cx="390.7" cy="530.1" r="1.6" fill="#FF8000"/>
<circle cx="392.6" cy="531.3" r="1.6" fill="#FF8000"/>
<circle cx="361.1" cy="535" r="1.6" fill="#F7CD50"/>
<circle cx="364.6" cy="538.7" r="1.6" fill="#F7CD50"/>
<circle cx="367.1" cy="539.2" r="1.6" fill="#00AAFF"/>
<circle cx="410.8" cy="539" r="1.6" fill="#08C06C"/>
<circle cx="381" cy="545.4" r="1.6" fill="#F7CD50"/>
<circle cx="369.3" cy="546.9" r="1.6" fill="#08C06C"/>
<circle cx="360.4" cy="568.5" r="1.6" fill="#08C06C"/>
<line x1="291.7" y1="506" x2="424.4" y2="483.4" stroke="#FF8000" stroke-width="2.4"/>
<line x1="286" y1="507.7" x2="473" y2="479.9" stroke="#F7CD50" stroke-width="2.4"/>
<line x1="270.4" y1="587.6" x2="459.1" y2="431.1" stroke="#08C06C" stroke-width="2.4"/>
<line x1="258.2" y1="565" x2="429.4" y2="466.3" stroke="#00AAFF" stroke-width="2.4"/>
<line x1="291" y1="504.8" x2="499.8" y2="448.7" stroke="#D23672" stroke-width="2.4"/>
</g>
<text x="297.4" y="733.9" text-anchor="middle" font-size="10.3" fill="#4d4d4d">0.2</text>
<text x="360.4" y="733.9" text-anchor="middle" font-size="10.3" fill="#4d4d4d">0.4</text>
<text x="422.4" y="733.9" text-anchor="middle" font-size="10.3" fill="#4d4d4d">0.6</text>
<text x="485" y="733.9" text-anchor="middle" font-size="10.3" fill="#4d4d4d">0.8</text>
<text x="243.3" y="434.55" text-anchor="end" font-size="10.3" fill="#4d4d4d">1.00</text>
<text x="243.3" y="504.45" text-anchor="end" font-size="10.3" fill="#4d4d4d">0.75</text>
<text x="243.3" y="574.35" text-anchor="end" font-size="10.3" fill="#4d4d4d">0.50</text>
<text x="243.3" y="644.25" text-anchor="end" font-size="10.3" fill="#4d4d4d">0.25</text>
<text x="243.3" y="714.15" text-anchor="end" font-size="10.3" fill="#4d4d4d">0.00</text>
<text x="391.8" y="750.5" text-anchor="middle" font-size="13.1" font-weight="bold" fill="#000">Emotional Regulation</text>
<text transform="translate(206.7,570.4) rotate(-90)" text-anchor="middle" font-size="13.1" font-weight="bold" fill="#000">Overall correctness</text>
</svg></body></html>
